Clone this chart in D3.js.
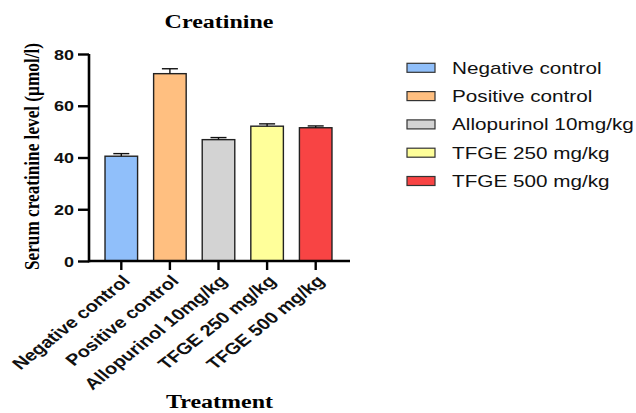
<!DOCTYPE html>
<head>
  <meta charset="UTF-8">
  <title>Creatinine</title>
  <style>
  body, html, svg{
    padding: 0;
    margin: 0;
  }
  body{
    background: #fff;
  }
  .serif{
    font-family: "Liberation Serif", "Times New Roman", serif;
    font-weight: bold;
  }
  .sans{
    font-family: "Liberation Sans", Arial, sans-serif;
  }
  </style>
</head>
<body>
  <script src="https://cdn.jsdelivr.net/npm/d3@7/dist/d3.min.js"></script>
  <script type="text/javascript">
  var width = 636;
  var height = 413;

  // data
  var groups = ['Negative control', 'Positive control', 'Allopurinol 10mg/kg', 'TFGE 250 mg/kg', 'TFGE 500 mg/kg'];
  var means = [40.5, 72.4, 46.9, 52.1, 51.5];
  var errors = [1.0, 1.9, 0.8, 0.9, 0.7];
  var colors = ['#90bffa', '#ffbf80', '#d3d3d3', '#ffff9a', '#f84444'];
  var yTicks = [0, 20, 40, 60, 80];

  // the picture is squeezed vertically, text follows that
  var squash = 0.8;

  var svg = d3.select('body')
    .append('svg')
    .attr('width', width)
    .attr('height', height);

  var x = d3.scaleBand()
    .domain(groups)
    .range([97, 340])
    .paddingInner(0.33)
    .paddingOuter(0.165);

  var y = d3.scaleLinear()
    .domain([0, 80])
    .range([261, 54]);

  //bars
  svg.append('g')
    .selectAll('rect')
    .data(groups)
    .enter()
    .append('rect')
    .attr('x', d => x(d))
    .attr('y', (d, i) => y(means[i]))
    .attr('width', x.bandwidth())
    .attr('height', (d, i) => y(0) - y(means[i]))
    .attr('fill', (d, i) => colors[i])
    .attr('stroke', '#222')
    .attr('stroke-width', 1.4);

  //error bars, upper only
  var err = svg.append('g')
    .attr('stroke', '#111')
    .attr('stroke-width', 1.4);
  groups.forEach(function(g, i){
    var cx = x(g) + x.bandwidth() / 2;
    err.append('line')
      .attr('x1', cx).attr('x2', cx)
      .attr('y1', y(means[i])).attr('y2', y(means[i] + errors[i]));
    err.append('line')
      .attr('x1', cx - 8).attr('x2', cx + 8)
      .attr('y1', y(means[i] + errors[i])).attr('y2', y(means[i] + errors[i]));
  });

  //y axis
  var yAxis = svg.append('g')
    .attr('transform', 'translate(89,0)')
    .call(d3.axisLeft(y).tickValues(yTicks).tickSize(11).tickSizeOuter(0).tickPadding(4));
  yAxis.select('.domain').attr('stroke-width', 2.6).attr('d', 'M0,' + (y(0) + 1.3) + 'V' + y(80));
  yAxis.selectAll('.tick line').attr('stroke-width', 2.4);
  yAxis.selectAll('.tick text')
    .attr('class', 'sans')
    .attr('font-size', 18)
    .attr('font-weight', 'bold')
    .attr('fill', '#111')
    .attr('dy', null)
    .attr('y', 0)
    .attr('transform', function(){
      var xx = +d3.select(this).attr('x');
      d3.select(this).attr('x', 0);
      return 'translate(' + xx + ',' + (0.36 * 18 * squash) + ') scale(1,' + squash + ')';
    });

  //x axis
  var xAxis = svg.append('g')
    .attr('transform', 'translate(0,261)')
    .call(d3.axisBottom(x).tickSize(9).tickSizeOuter(0));
  xAxis.select('.domain').attr('stroke-width', 2.6).attr('d', 'M89,0H350');
  xAxis.selectAll('.tick line').attr('stroke-width', 2.4);
  xAxis.selectAll('.tick text').remove();

  svg.append('g')
    .selectAll('text')
    .data(groups)
    .enter()
    .append('text')
    .attr('class', 'sans')
    .attr('font-size', 20)
    .attr('font-weight', 'bold')
    .attr('fill', '#111')
    .attr('text-anchor', 'end')
    .attr('dy', '0.35em')
    .attr('transform', d => 'translate(' + (x(d) + x.bandwidth() / 2 + 5) + ',278) scale(1,' + squash + ') rotate(-45)')
    .text(d => d);

  //titles
  svg.append('text')
    .attr('class', 'serif')
    .attr('font-size', 24)
    .attr('text-anchor', 'middle')
    .attr('transform', 'translate(219,27.7) scale(1,0.78)')
    .text('Creatinine');

  svg.append('text')
    .attr('class', 'serif')
    .attr('font-size', 24)
    .attr('text-anchor', 'middle')
    .attr('transform', 'translate(219.5,408) scale(1,0.78)')
    .text('Treatment');

  svg.append('text')
    .attr('class', 'serif')
    .attr('font-size', 21)
    .attr('text-anchor', 'middle')
    .attr('transform', 'translate(39,156.5) scale(1,0.82) rotate(-90)')
    .text('Serum creatinine level (\u00b5mol/l)');

  //legend
  var legend = svg.append('g')
    .selectAll('g')
    .data(groups)
    .enter()
    .append('g')
    .attr('transform', (d, i) => 'translate(407,' + (67.8 + i * 28.3) + ')');
  legend.append('rect')
    .attr('x', 0)
    .attr('y', -4.5)
    .attr('width', 28)
    .attr('height', 9)
    .attr('fill', (d, i) => colors[i])
    .attr('stroke', '#333')
    .attr('stroke-width', 1.2);
  legend.append('text')
    .attr('class', 'sans')
    .attr('font-size', 20.7)
    .attr('fill', '#111')
    .attr('transform', 'translate(45,5.8) scale(1,0.83)')
    .text(d => d);
  </script>
</body>
</html>
